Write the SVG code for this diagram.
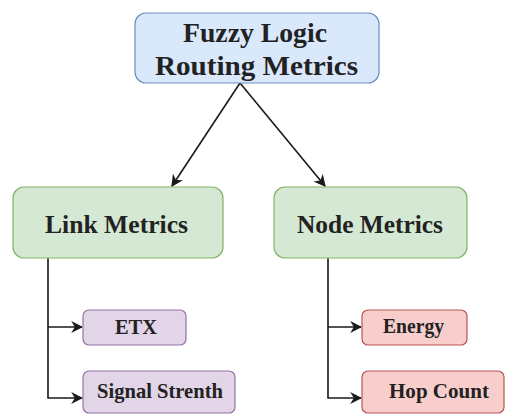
<svg xmlns="http://www.w3.org/2000/svg" width="505" height="414" viewBox="0 0 505 414">
<defs>
<marker id="ah" viewBox="0 0 10 10" refX="9" refY="5" markerWidth="12" markerHeight="12" markerUnits="userSpaceOnUse" orient="auto">
<path d="M0,0 L10,5 L0,10 L3,5 Z" fill="#1a1a1a"/>
</marker>
<style>
.t{font-family:'Liberation Serif','DejaVu Serif','Times New Roman',serif;font-weight:700;fill:#222;text-anchor:middle}
.blue{fill:#dae8fc;stroke:#6c8ebf;stroke-width:1.2}
.green{fill:#d5e8d4;stroke:#82b366;stroke-width:1.2}
.purple{fill:#e1d5e7;stroke:#9673a6;stroke-width:1.2}
.red{fill:#f8cecc;stroke:#b85450;stroke-width:1.2}
.c{fill:none;stroke:#1a1a1a;stroke-width:1.6}
</style>
</defs>
<rect width="505" height="414" fill="#ffffff"/>
<g id="connectors">
<path class="c" d="M240,83 L172,186" marker-end="url(#ah)"/>
<path class="c" d="M240,83 L325,186" marker-end="url(#ah)"/>
<path class="c" d="M48,258 L48,398 L82,398" marker-end="url(#ah)"/>
<path class="c" d="M48,327 L82,327" marker-end="url(#ah)"/>
<path class="c" d="M328,258 L328,398 L361,398" marker-end="url(#ah)"/>
<path class="c" d="M328,327 L361,327" marker-end="url(#ah)"/>
</g>
<g id="fuzzy">
<rect class="blue" x="135" y="13" width="244" height="70" rx="11"/>
<text class="t" x="255" y="42" font-size="28" textLength="144" lengthAdjust="spacingAndGlyphs">Fuzzy Logic</text>
<text class="t" x="256.5" y="75" font-size="28" textLength="203" lengthAdjust="spacingAndGlyphs">Routing Metrics</text>
</g>
<g id="link">
<rect class="green" x="13" y="187" width="210" height="71" rx="11"/>
<text class="t" x="116.5" y="233" font-size="26" textLength="143" lengthAdjust="spacingAndGlyphs">Link Metrics</text>
</g>
<g id="node">
<rect class="green" x="274" y="187" width="193" height="71" rx="11"/>
<text class="t" x="370" y="233" font-size="26" textLength="146" lengthAdjust="spacingAndGlyphs">Node Metrics</text>
</g>
<g id="etx">
<rect class="purple" x="83" y="310" width="103" height="35" rx="6"/>
<text class="t" x="136" y="334" font-size="21" textLength="42" lengthAdjust="spacingAndGlyphs">ETX</text>
</g>
<g id="signal">
<rect class="purple" x="83" y="371" width="152" height="42" rx="6"/>
<text class="t" x="160" y="398" font-size="21" textLength="126" lengthAdjust="spacingAndGlyphs">Signal Strenth</text>
</g>
<g id="energy">
<rect class="red" x="362" y="310" width="105" height="35" rx="6"/>
<text class="t" x="413.5" y="333" font-size="21" textLength="61" lengthAdjust="spacingAndGlyphs">Energy</text>
</g>
<g id="hop">
<rect class="red" x="362" y="371" width="142" height="42" rx="6"/>
<text class="t" x="439" y="398" font-size="21" textLength="100" lengthAdjust="spacingAndGlyphs">Hop Count</text>
</g>
</svg>
